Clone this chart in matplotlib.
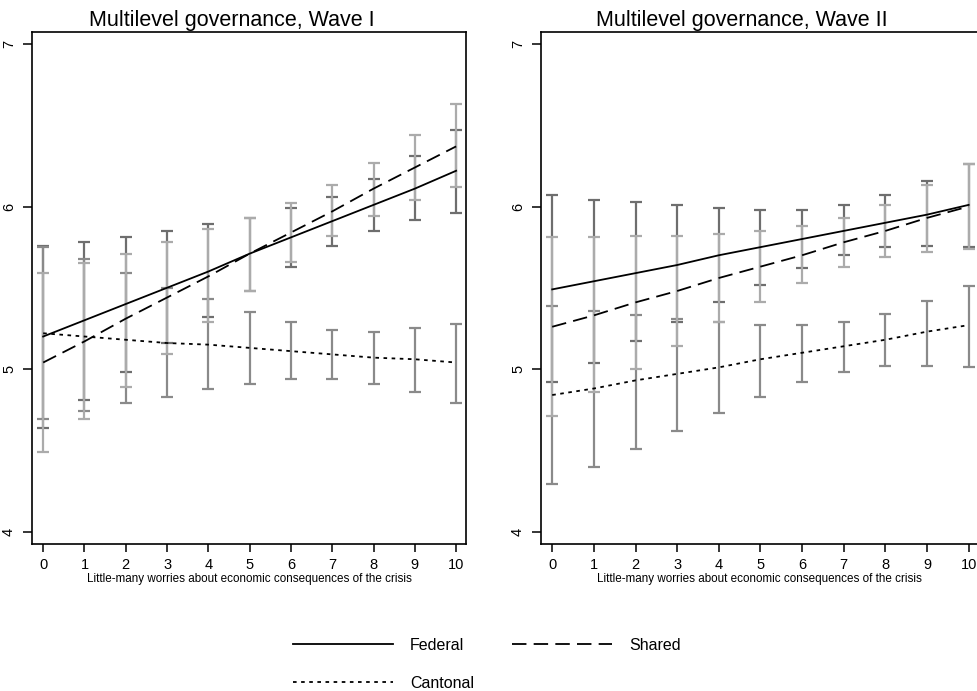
#!/usr/bin/env python3
# -*- coding: utf-8 -*-
# plot.py

import numpy as np
from matplotlib import pyplot as plt

#%% datos
x = np.arange(11)
xticks = list(range(11))
yticks = [4, 5, 6, 7]

# Wave I: valores predichos e intervalos
fed_w1 = [5.20, 5.30, 5.40, 5.50, 5.60, 5.71, 5.81, 5.91, 6.01, 6.11, 6.22]
fed_w1_lo = [4.64, 4.81, 4.98, 5.16, 5.32, 5.48, 5.63, 5.76, 5.85, 5.92, 5.96]
fed_w1_hi = [5.76, 5.78, 5.81, 5.85, 5.89, 5.93, 5.99, 6.06, 6.17, 6.31, 6.47]

sha_w1 = [5.04, 5.17, 5.31, 5.44, 5.57, 5.71, 5.84, 5.97, 6.11, 6.24, 6.37]
sha_w1_lo = [4.49, 4.69, 4.89, 5.09, 5.29, 5.48, 5.66, 5.82, 5.94, 6.04, 6.12]
sha_w1_hi = [5.59, 5.65, 5.71, 5.78, 5.86, 5.93, 6.02, 6.13, 6.27, 6.44, 6.63]

can_w1 = [5.22, 5.20, 5.18, 5.16, 5.15, 5.13, 5.11, 5.09, 5.07, 5.06, 5.04]
can_w1_lo = [4.69, 4.74, 4.79, 4.83, 4.88, 4.91, 4.94, 4.94, 4.91, 4.86, 4.79]
can_w1_hi = [5.75, 5.68, 5.59, 5.50, 5.43, 5.35, 5.29, 5.24, 5.23, 5.25, 5.28]

# Wave II
fed_w2 = [5.49, 5.54, 5.59, 5.64, 5.70, 5.75, 5.80, 5.85, 5.90, 5.95, 6.01]
fed_w2_lo = [4.92, 5.04, 5.17, 5.29, 5.41, 5.52, 5.62, 5.70, 5.75, 5.76, 5.75]
fed_w2_hi = [6.07, 6.04, 6.03, 6.01, 5.99, 5.98, 5.98, 6.01, 6.07, 6.16, 6.26]

sha_w2 = [5.26, 5.33, 5.41, 5.48, 5.56, 5.63, 5.70, 5.78, 5.85, 5.93, 6.00]
sha_w2_lo = [4.71, 4.86, 5.00, 5.14, 5.29, 5.41, 5.53, 5.63, 5.69, 5.72, 5.74]
sha_w2_hi = [5.81, 5.81, 5.82, 5.82, 5.83, 5.85, 5.88, 5.93, 6.01, 6.13, 6.26]

can_w2 = [4.84, 4.88, 4.93, 4.97, 5.01, 5.06, 5.10, 5.14, 5.18, 5.23, 5.27]
can_w2_lo = [4.29, 4.40, 4.51, 4.62, 4.73, 4.83, 4.92, 4.98, 5.02, 5.02, 5.01]
can_w2_hi = [5.39, 5.36, 5.33, 5.31, 5.29, 5.27, 5.27, 5.29, 5.34, 5.42, 5.51]

titulos = ['Multilevel governance, Wave I', 'Multilevel governance, Wave II']
xlabel = 'Little-many worries about economic consequences of the crisis'

#%% estilos
c_fed = '#6e6e6e'
c_sha = '#ababab'
c_can = '#8a8a8a'
ls_fed = '-'
ls_sha = (0, (8, 4))
ls_can = (0, (2, 2.5))

plt.rcParams['font.family'] = ['Liberation Sans', 'DejaVu Sans']

fig = plt.figure(figsize=(9.77, 6.91), dpi=100)
ax1 = fig.add_axes([0.0328, 0.2127, 0.4442, 0.741])
ax2 = fig.add_axes([0.5537, 0.2127, 0.4480, 0.741])

paneles = [
  (ax1, (fed_w1, fed_w1_lo, fed_w1_hi), (sha_w1, sha_w1_lo, sha_w1_hi),
   (can_w1, can_w1_lo, can_w1_hi)),
  (ax2, (fed_w2, fed_w2_lo, fed_w2_hi), (sha_w2, sha_w2_lo, sha_w2_hi),
   (can_w2, can_w2_lo, can_w2_hi)),
]

handles = {}
for i, (ax, fed, sha, can) in enumerate(paneles):
  # barras de error (intervalos)
  for serie, col in [(fed, c_fed), (can, c_can), (sha, c_sha)]:
    m, lo, hi = (np.array(v) for v in serie)
    ax.errorbar(x, m, yerr=[m - lo, hi - m], fmt='none', ecolor=col,
                elinewidth=1.6, capsize=4, capthick=1.6, zorder=2)
  # lineas de prediccion
  h1, = ax.plot(x, fed[0], color='black', lw=1.3, ls=ls_fed, zorder=3)
  h2, = ax.plot(x, sha[0], color='black', lw=1.3, ls=ls_sha, zorder=3)
  h3, = ax.plot(x, can[0], color='black', lw=1.3, ls=ls_can, zorder=3)
  handles = {'Federal': h1, 'Shared': h2, 'Cantonal': h3}
  ax.set_xlim(-0.27, 10.24)
  ax.set_ylim(3.923, 7.074)
  ax.set_xticks(xticks)
  ax.set_yticks(yticks)
  ax.set_yticklabels([str(t) for t in yticks], rotation=90, va='center')
  ax.tick_params(axis='x', length=6, width=1.1, labelsize=10.5, pad=4)
  ax.tick_params(axis='y', length=6.5, width=1.1, labelsize=10.5, pad=5)
  for sp in ax.spines.values():
    sp.set_linewidth(1.2)
  t = ax.set_title(titulos[i], fontsize=15.5, pad=4)
  t.set_x(0.46)
  ax.set_xlabel(xlabel, fontsize=8.4, labelpad=1)

# leyenda (orden por columnas)
fig.legend([handles['Federal'], handles['Cantonal'], handles['Shared']],
           ['Federal', 'Cantonal', 'Shared'],
           ncol=2, frameon=False, fontsize=11.5,
           loc='upper left', bbox_to_anchor=(0.300, 0.077),
           handlelength=6.26, handletextpad=1.06, columnspacing=2.4,
           labelspacing=1.44, borderpad=0, borderaxespad=0)

fig.savefig('out.png', dpi=100)
